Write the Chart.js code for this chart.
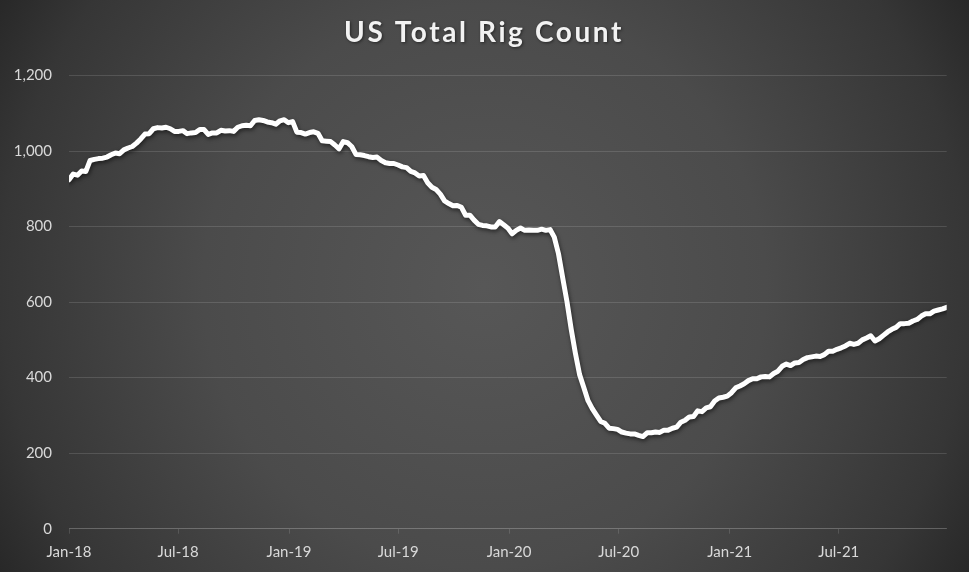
<!DOCTYPE html>
<html><head><meta charset="utf-8">
<script src="https://cdn.jsdelivr.net/npm/chart.js@4.4.1/dist/chart.umd.min.js"></script>
<style>
html,body{margin:0;padding:0;overflow:hidden;}
body{width:969px;height:572px;background:radial-gradient(circle farthest-corner at 50% 50%, #575757 0%, #4b4b4b 50%, #363636 86%, #282828 100%);}
#wrap{position:relative;width:969px;height:572px;}
</style></head>
<body><div id="wrap"><canvas id="c"></canvas></div>
<script>
const chartTitle = 'US Total Rig Count';
const firstWeek = '2018-01-05';
const rigCount = [
  // 2018
  924, 939, 936, 947, 946, 975, 978, 980, 981, 984, 990, 995, 993,
  1003, 1008, 1012, 1021, 1032, 1045, 1046, 1059, 1062, 1061, 1063, 1059, 1052,
  1052, 1054, 1046, 1048, 1049, 1057, 1057, 1044, 1048, 1048, 1055, 1053, 1054,
  1052, 1063, 1067, 1068, 1067, 1081, 1083, 1081, 1077, 1075, 1071, 1080, 1083,
  // 2019
  1075, 1078, 1050, 1049, 1045, 1049, 1051, 1047, 1027, 1026, 1025, 1016, 1006,
  1025, 1022, 1012, 991, 990, 988, 985, 983, 984, 975, 969, 967, 967,
  963, 958, 956, 946, 942, 934, 935, 916, 904, 898, 886, 868, 861,
  855, 856, 851, 830, 830, 817, 806, 803, 802, 799, 799, 813, 805,
  // 2020
  796, 781, 790, 796, 790, 791, 790, 790, 793, 790, 792, 772, 728,
  664, 602, 529, 465, 408, 374, 339, 318, 301, 284, 279, 266, 265,
  263, 256, 253, 251, 251, 247, 244, 254, 254, 256, 255, 261, 261,
  266, 269, 282, 287, 296, 297, 312, 310, 320, 323, 338, 346, 348,
  // 2021
  351, 360, 373, 378, 384, 392, 397, 397, 402, 403, 402, 411, 417,
  430, 436, 432, 439, 440, 448, 453, 455, 457, 456, 461, 470, 470,
  475, 479, 484, 491, 488, 491, 500, 505, 511, 497, 503, 512, 521,
  528, 533, 543, 543, 544, 550, 554, 563, 569, 569, 576, 579, 582, 586
];
const tickDates = ['2018-01-05','2018-07-05','2019-01-05','2019-07-05','2020-01-05','2020-07-05','2021-01-05','2021-07-05'];
const tickLabels = ['Jan-18','Jul-18','Jan-19','Jul-19','Jan-20','Jul-20','Jan-21','Jul-21'];
const yMin = 0, yMax = 1200, yStep = 200;

const DAY = 86400000;
const t0 = Date.parse(firstWeek + 'T00:00:00Z');
const dayOf = s => Math.round((Date.parse(s + 'T00:00:00Z') - t0) / DAY);
const points = rigCount.map((v, i) => ({ x: i * 7, y: v }));
const tickDays = tickDates.map(dayOf);
const lastDay = (rigCount.length - 1) * 7;

const gridCol = 'rgba(255,255,255,0.13)';
const labelCol = '#d9d9d9';

const shadowPlugin = {
  id: 'lineShadow',
  beforeDatasetsDraw(chart) {
    const ctx = chart.ctx;
    ctx.save();
    ctx.shadowColor = 'rgba(0,0,0,0.55)';
    ctx.shadowBlur = 4;
    ctx.shadowOffsetX = 1;
    ctx.shadowOffsetY = 2;
  },
  afterDatasetsDraw(chart) { chart.ctx.restore(); }
};

const titlePlugin = {
  id: 'spacedTitle',
  afterDraw(chart) {
    const ctx = chart.ctx;
    ctx.save();
    ctx.font = 'bold 28px Lato';
    if ('letterSpacing' in ctx) ctx.letterSpacing = '2.6px';
    ctx.fillStyle = '#f2f2f2';
    ctx.textAlign = 'center';
    ctx.textBaseline = 'alphabetic';
    ctx.shadowColor = 'rgba(0,0,0,0.5)';
    ctx.shadowBlur = 3;
    ctx.shadowOffsetX = 1;
    ctx.shadowOffsetY = 1;
    ctx.fillText(chartTitle, 484, 42);
    ctx.restore();
  }
};

new Chart(document.getElementById('c'), {
  type: 'line',
  data: {
    datasets: [{
      label: chartTitle,
      data: points,
      borderColor: '#ffffff',
      borderWidth: 5,
      pointRadius: 0,
      pointHoverRadius: 0,
      tension: 0,
      borderJoinStyle: 'round',
      borderCapStyle: 'round',
      fill: false
    }]
  },
  options: {
    responsive: true,
    maintainAspectRatio: false,
    animation: false,
    events: [],
    layout: { padding: { top: 75.5, right: 22.3, bottom: 0, left: 0 } },
    plugins: {
      legend: { display: false },
      title: { display: false },
      tooltip: { enabled: false }
    },
    scales: {
      x: {
        type: 'linear',
        min: 0,
        max: lastDay,
        afterBuildTicks: s => { s.ticks = tickDays.map(v => ({ value: v })); },
        afterFit: s => { s.height = 43.3; },
        ticks: {
          autoSkip: false,
          maxRotation: 0,
          color: labelCol,
          font: { family: 'Lato', size: 15 },
          padding: 9,
          callback: (v, i) => tickLabels[i]
        },
        grid: { drawOnChartArea: false, drawTicks: true, tickLength: 5, color: gridCol, lineWidth: 1 },
        border: { display: true, color: gridCol, width: 1 }
      },
      y: {
        min: yMin,
        max: yMax,
        afterFit: s => { s.width = 69; },
        ticks: {
          stepSize: yStep,
          color: labelCol,
          font: { family: 'Lato', size: 15 },
          padding: 17
        },
        grid: { color: gridCol, lineWidth: 1, drawTicks: false },
        border: { display: false }
      }
    }
  },
  plugins: [shadowPlugin, titlePlugin]
});
</script>
</body></html>
